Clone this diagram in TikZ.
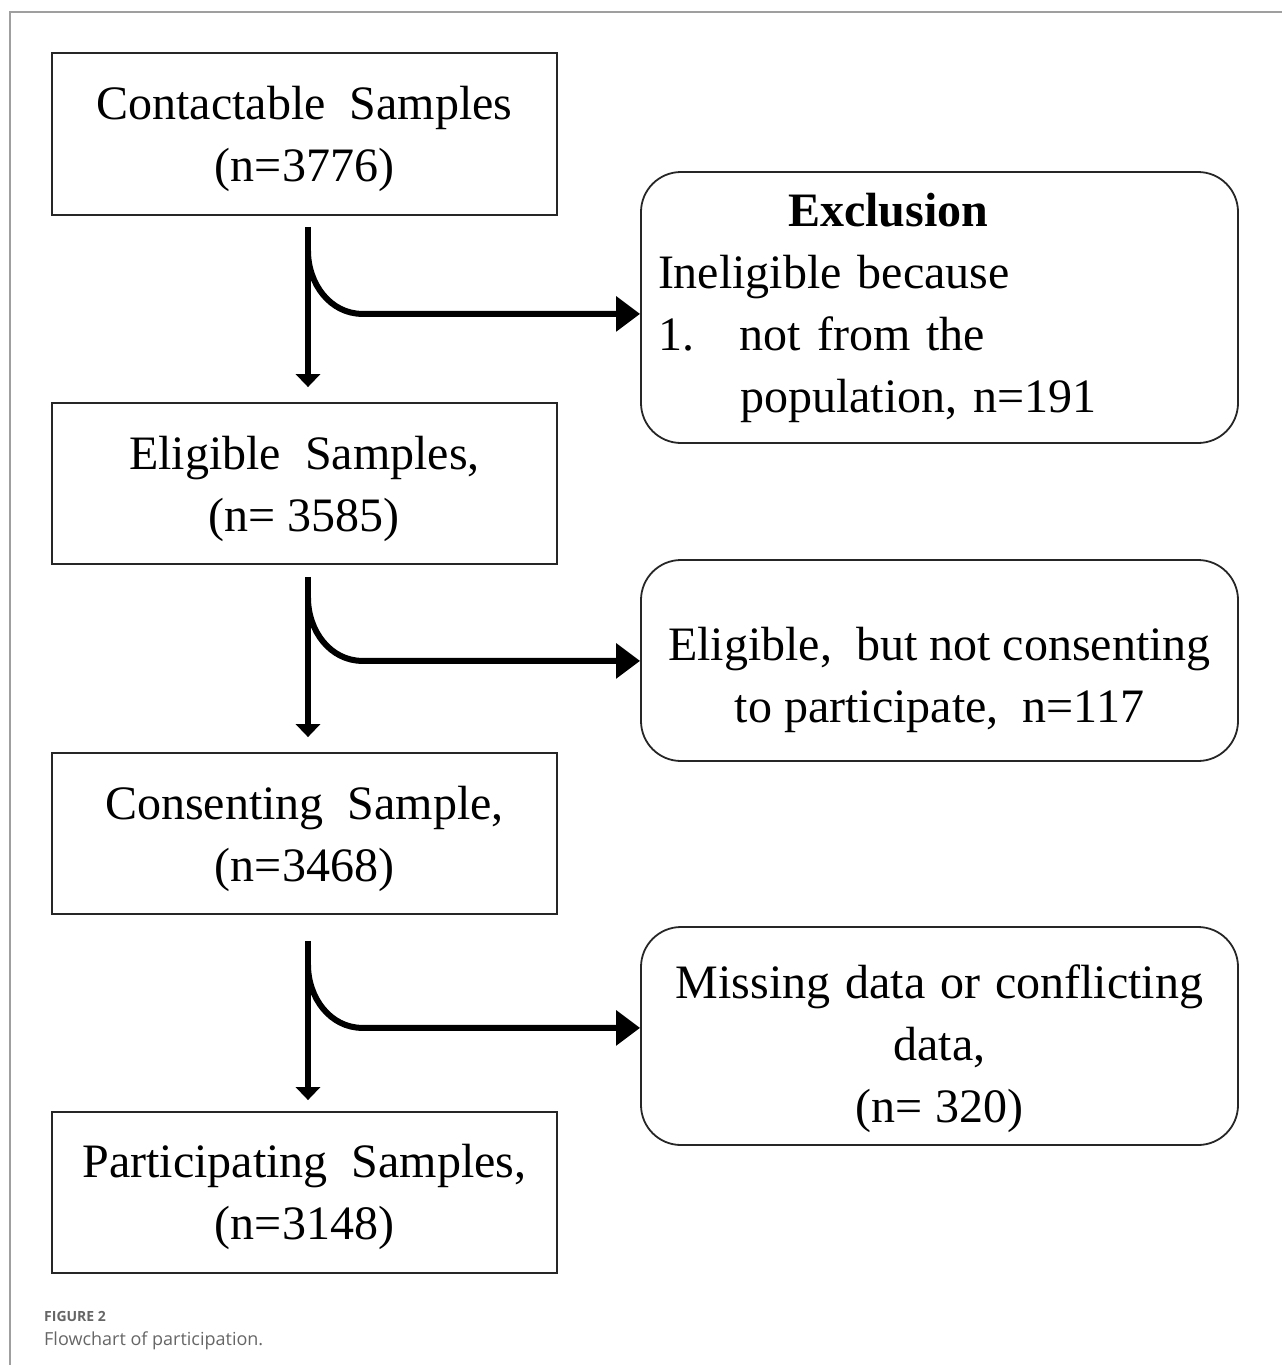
\documentclass[tikz,border=0pt]{standalone}
\usepackage{fontspec}
\setmainfont{Liberation Serif}
\newfontfamily\capfont{Open Sans}
\usetikzlibrary{arrows.meta}
\newcommand\lowerby[1]{\rule{0pt}{#1}}

\begin{document}
\begin{tikzpicture}[x=1pt,y=-1pt,
  stage/.style={draw=black!85, line width=1.8pt, minimum width=505pt, minimum height=161pt,
    inner sep=0pt, align=center, font=\fontsize{48}{62}\selectfont},
  excl/.style={stage, rounded corners=40pt, minimum width=597pt},
  down/.style={line width=6pt, -{Triangle[length=13pt,width=24pt]}},
  side/.style={line width=6pt, -{Triangle[length=24pt,width=34pt]}}]
 \useasboundingbox (0,0) rectangle (1282,1365);
 \draw[gray!75, line width=2pt] (10,1365) -- (10,12) -- (1282,12);

 \node[stage, minimum height=162pt] (contact) at (304.5,134) {\lowerby{44pt}Contactable\ \ Samples\\(n=3776)};
 \node[stage] (eligible) at (304.5,483.5) {\lowerby{45pt}Eligible\ \ Samples,\\(n=\ 3585)};
 \node[stage] (consent) at (304.5,833.5) {\lowerby{44pt}Consenting\ \ Sample,\\(n=3468)};
 \node[stage] (partic) at (304.5,1192.5) {\lowerby{42pt}Participating\ \ Samples,\\(n=3148)};

 \node[excl, minimum height=271pt, text width=563pt, align=left] (inelig) at (939.5,307.5)
  {\hspace*{130pt}\textbf{Exclusion}\\
   Ineligible because\\
   \makebox[82pt][l]{1.}not from the\\
   \hspace*{82pt}population, n=191};
 \node[excl, minimum height=201pt] (noconsent) at (939.5,660.5)
  {\lowerby{73pt}Eligible,\ \ but\ not\ consenting\\to\ participate,\ \ n=117};
 \node[excl, minimum height=218pt] (missing) at (939.5,1036)
  {\lowerby{59pt}Missing\hspace{15pt}data\hspace{15pt}or\hspace{15pt}conflicting\\data,\\(n=\ 320)};

 % main flow
 \draw[down] ([xshift=3.5pt,yshift=-11pt]contact.south) -- ([xshift=3.5pt,yshift=15pt]eligible.north);
 \draw[down] ([xshift=3.5pt,yshift=-12pt]eligible.south) -- ([xshift=3.5pt,yshift=15pt]consent.north);
 \draw[down] ([xshift=3.5pt,yshift=-26pt]consent.south) -- ([xshift=3.5pt,yshift=11pt]partic.north);

 % exclusions
 \draw[side] ([xshift=3.5pt,yshift=-35pt]contact.south) to[out=-90,in=180]
   ([xshift=58pt,yshift=-98pt]contact.south) coordinate (k1) -- (k1 -| inelig.west);
 \draw[side] ([xshift=3.5pt,yshift=-33pt]eligible.south) to[out=-90,in=180]
   ([xshift=58pt,yshift=-96pt]eligible.south) coordinate (k2) -- (k2 -| noconsent.west);
 \draw[side] ([xshift=3.5pt,yshift=-50pt]consent.south) to[out=-90,in=180]
   ([xshift=58pt,yshift=-113pt]consent.south) coordinate (k3) -- (k3 -| missing.west);

 \node[anchor=base west, inner sep=0pt, text=black!60, font=\capfont\bfseries\fontsize{14}{16}\selectfont]
   (fig) at (44,1321) {FIGURE 2};
 \node[anchor=base west, inner sep=0pt, text=black!60, font=\capfont\fontsize{18}{21}\selectfont]
   (cap) at (44,1345) {Flowchart of participation.};
\end{tikzpicture}
\end{document}
